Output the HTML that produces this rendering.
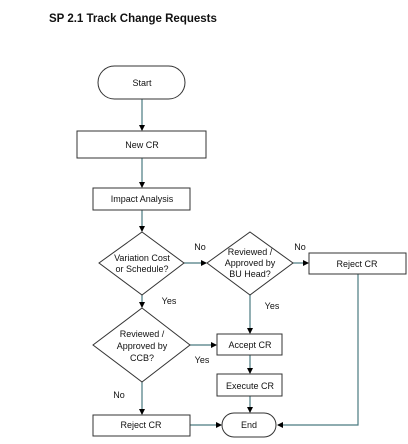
<!DOCTYPE html>
<html><head><style>body{margin:0;background:#fff}</style></head><body>
<svg width="408" height="439" xmlns="http://www.w3.org/2000/svg" font-family="Liberation Sans, sans-serif">
<defs><marker id="a" markerWidth="6" markerHeight="6" refX="5" refY="3" orient="auto" markerUnits="userSpaceOnUse"><path d="M0,0L6,3L0,6z" fill="#000"/></marker></defs>
<text x="49" y="22" font-size="11.5" font-weight="bold" fill="#111">SP 2.1 Track Change Requests</text>
<g stroke="#4a7a80" stroke-width="1.2" fill="none">
<line x1="142" y1="99" x2="142" y2="130" marker-end="url(#a)"/>
<line x1="142" y1="158" x2="142" y2="187" marker-end="url(#a)"/>
<line x1="142" y1="210" x2="142" y2="231" marker-end="url(#a)"/>
<line x1="184" y1="263" x2="206" y2="263" marker-end="url(#a)"/>
<line x1="293" y1="263" x2="308" y2="263" marker-end="url(#a)"/>
<line x1="142" y1="295" x2="142" y2="307" marker-end="url(#a)"/>
<line x1="250" y1="295" x2="250" y2="333" marker-end="url(#a)"/>
<line x1="190" y1="345" x2="216" y2="345" marker-end="url(#a)"/>
<line x1="250" y1="355" x2="250" y2="373" marker-end="url(#a)"/>
<line x1="250" y1="396" x2="250" y2="412" marker-end="url(#a)"/>
<line x1="142" y1="382" x2="142" y2="414" marker-end="url(#a)"/>
<line x1="190" y1="425" x2="221" y2="425" marker-end="url(#a)"/>
<polyline points="358,274 358,425 278,425" marker-end="url(#a)"/>
</g>
<g stroke="#333" stroke-width="1" fill="#fff">
<rect x="98" y="66" width="87" height="33" rx="16.5"/>
<rect x="77" y="131" width="129" height="27"/>
<rect x="93" y="188" width="97" height="22"/>
<polygon points="142,232 184,263 142,295 99,263"/>
<polygon points="250,232 293,263 250,295 207,263"/>
<rect x="309" y="253" width="97" height="21"/>
<polygon points="142,308 190,345 142,382 93,345"/>
<rect x="217" y="334" width="65" height="21"/>
<rect x="217" y="374" width="65" height="22"/>
<rect x="93" y="415" width="97" height="21"/>
<rect x="222" y="413" width="54" height="24" rx="12"/>
</g>
<g font-size="9" fill="#111" text-anchor="middle">
<text x="142" y="86">Start</text>
<text x="142" y="148">New CR</text>
<text x="142" y="202">Impact Analysis</text>
<text x="142" y="261">Variation Cost</text><text x="142" y="272">or Schedule?</text>
<text x="250" y="255">Reviewed /</text><text x="250" y="266">Approved by</text><text x="250" y="277">BU Head?</text>
<text x="357" y="267">Reject CR</text>
<text x="142" y="337">Reviewed /</text><text x="142" y="349">Approved by</text><text x="142" y="361">CCB?</text>
<text x="250" y="348">Accept CR</text>
<text x="250" y="389">Execute CR</text>
<text x="141" y="428">Reject CR</text>
<text x="249" y="428">End</text>
<text x="200" y="250">No</text>
<text x="300" y="250">No</text>
<text x="169" y="304">Yes</text>
<text x="272" y="309">Yes</text>
<text x="202" y="363">Yes</text>
<text x="119" y="398">No</text>
</g>
</svg>
</body></html>
